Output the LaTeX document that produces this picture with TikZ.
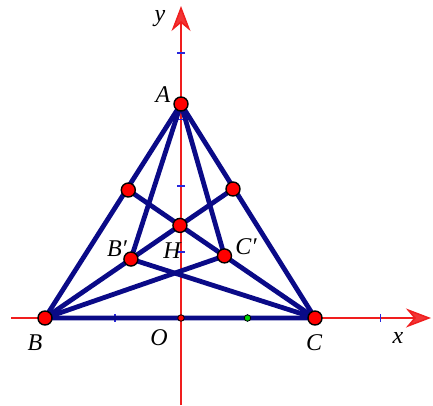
\documentclass[tikz,border=0pt]{standalone}
\usepackage{fontspec}
\setmainfont{Liberation Serif}
\usetikzlibrary{arrows.meta,calc}
\definecolor{navyline}{RGB}{10,10,135}
\definecolor{axisred}{RGB}{240,30,30}
\definecolor{tickblue}{RGB}{40,40,220}
\definecolor{dotred}{RGB}{255,0,0}
\definecolor{dotgreen}{RGB}{0,210,0}
\tikzset{
  axis/.style={draw=axisred, line width=1.5pt, -{Stealth[length=25pt,width=19pt,inset=8pt,fill=axisred!90]}},
  seg/.style={draw=navyline, line width=4.8pt, line cap=round},
  tickmark/.style={draw=tickblue, line width=1.5pt},
  bigdot/.style={circle, fill=dotred, draw=black, line width=1.4pt, minimum size=14pt, inner sep=0pt},
  smalldot/.style={circle, fill=dotred, draw=black, line width=0.8pt, minimum size=6.5pt, inner sep=0pt},
  greendot/.style={circle, fill=dotgreen, draw=black, line width=0.8pt, minimum size=6.5pt, inner sep=0pt},
  lab/.style={inner sep=0pt, font=\fontsize{24}{26}\selectfont\itshape}
}
\begin{document}
\begin{tikzpicture}[x=1pt,y=-1pt]
\useasboundingbox (0,0) rectangle (433,405);
% points
\coordinate (O) at (181,318);
\coordinate (B) at (45,318);
\coordinate (C) at (315,318);
\coordinate (A) at (181,104);
\coordinate (P) at (128.3,190);
\coordinate (Q) at (233,189);
\coordinate (H) at (intersection of B--Q and C--P);
\coordinate (Bp) at ($(B)!0.457!(Q)$);
\coordinate (Cp) at ($(C)!0.485!(P)$);
% axes
\coordinate (xs) at (11,318);
\coordinate (xe) at (431,318);
\coordinate (ys) at (181,405);
\coordinate (ye) at (181,6);
\draw[axis] (xs) -- (xe);
\draw[axis] (ys) -- (ye);
% ticks
\foreach \tx in {115,247.5,380.5} \draw[tickmark] (\tx,314) -- (\tx,322);
\foreach \ty in {53,119.5,186,252} \draw[tickmark] (177,\ty) -- (185,\ty);
% segments
\draw[seg] (A) -- (B) -- (C) -- cycle;
\draw[seg] (B) -- (Q);
\draw[seg] (C) -- (P);
\draw[seg] (A) -- (Bp);
\draw[seg] (A) -- (Cp);
\draw[seg] (Bp) -- (C);
\draw[seg] (Cp) -- (B);
% dots
\node[smalldot] (Od) at (O) {};
\node[greendot] (Gd) at (247.5,318) {};
\foreach \p in {A,B,C,P,Q,H,Bp,Cp} \node[bigdot] (\p d) at (\p) {};
% labels
\node[lab] (ly) at (160,19) {y};
\node[lab] (lA) at (163,95) {A};
\node[lab] (lBp) at (117,249) {B′};
\node[lab] (lH) at (172,251) {H};
\node[lab] (lCp) at (246,247) {C′};
\node[lab] (lB) at (35,343) {B};
\node[lab] (lO) at (159,338) {O};
\node[lab] (lC) at (314,343) {C};
\node[lab] (lx) at (398,338) {x};
\end{tikzpicture}
\end{document}
